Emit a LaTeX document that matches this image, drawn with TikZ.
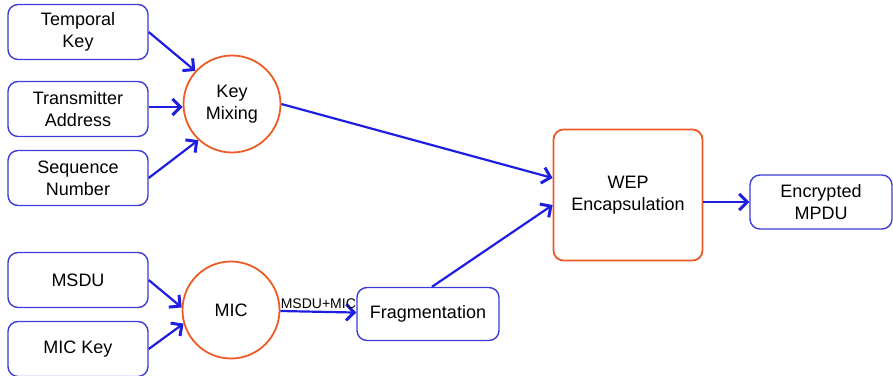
\documentclass[tikz,border=0pt]{standalone}
\usepackage{fontspec}
\setmainfont{Liberation Sans}
\usetikzlibrary{arrows.meta,positioning}
\definecolor{flowblue}{HTML}{1E1EE0}
\definecolor{boxblue}{HTML}{3C3CD6}
\definecolor{procorange}{HTML}{EE5A24}

\begin{document}
\begin{tikzpicture}[x=1pt,y=-1pt,
  inp/.style={draw=boxblue,rounded corners=10pt,minimum width=140pt,minimum height=55pt,line width=1.4pt,align=center,inner sep=0pt,font=\fontsize{18}{22}\selectfont},
  proc/.style={circle,draw=procorange,line width=1.8pt,minimum size=97pt,align=center,inner sep=0pt,font=\fontsize{18}{22}\selectfont},
  flow/.style={-{Straight Barb[length=8pt,width=16pt,line width=3pt]},flowblue,line width=2.2pt}]
 \useasboundingbox (0,0) rectangle (893,375);
 % inputs
 \node[inp] (tk) at (78,32) {Temporal\\Key};
 \node[inp] (ta) at (78,109) {Transmitter\\Address};
 \node[inp] (sn) at (78,178) {Sequence\\Number};
 \node[inp] (msdu) at (78,280) {MSDU};
 \node[inp] (mk) at (78,349) {MIC Key};
 % processing
 \node[proc] (km) at (232,104) {Key\\Mixing};
 \node[proc] (mic) at (231,310) {MIC};
 \node[inp,minimum width=142pt,minimum height=53pt] (frag) at (428,314) {Fragmentation};
 \node[inp,draw=procorange,line width=1.8pt,minimum width=149pt,minimum height=131pt] (wep) at (628,195) {WEP\\Encapsulation};
 \node[inp,minimum width=142pt,minimum height=54pt] (mpdu) at (821,202) {Encrypted\\MPDU};
 % connectors
 \draw[flow] (tk.east) -- (km.138);
 \draw[flow] ([yshift=2pt]ta.east) -- ([yshift=2pt]ta.east -| km.west);
 \draw[flow] (sn.east) -- (km.227);
 \draw[flow] (msdu.east) -- (mic.177);
 \draw[flow] (mk.east) -- (mic.196);
 \draw[flow] (mic) -- node[above,black,font=\fontsize{14}{16}\selectfont,inner sep=2pt]{MSDU+MIC} (frag);
 \draw[flow] (km.east) -- ([yshift=17pt]wep.west);
 \draw[flow] ([xshift=4pt]frag.north) -- ([yshift=-10pt]wep.west);
 \draw[flow] (wep.east |- mpdu.west) -- (mpdu.west);
\end{tikzpicture}
\end{document}
